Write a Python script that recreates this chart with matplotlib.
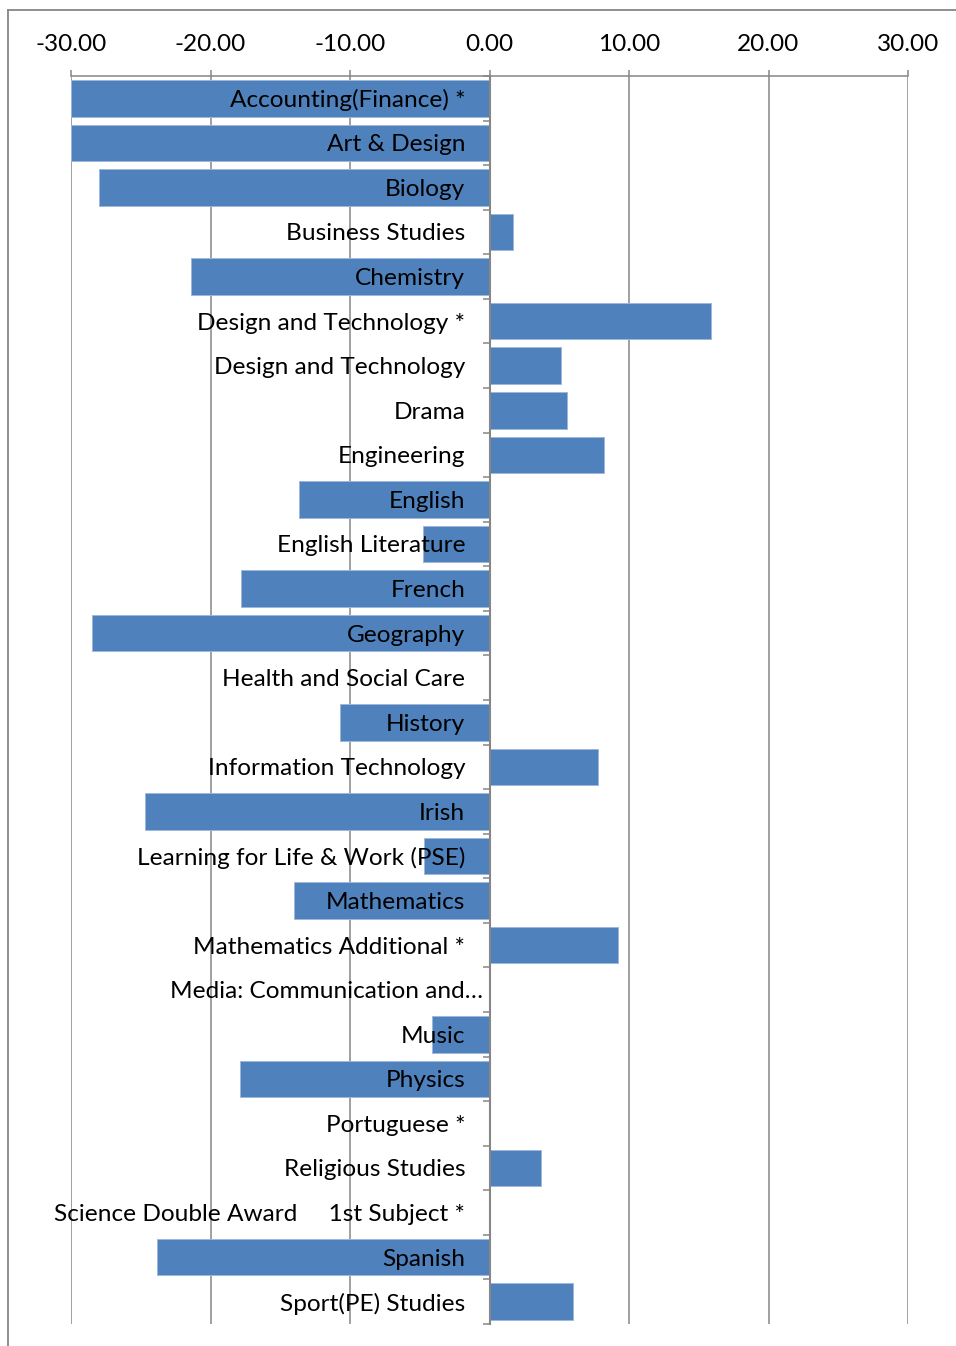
import matplotlib
matplotlib.use("Agg")
import matplotlib.pyplot as plt
from matplotlib.lines import Line2D
from matplotlib.transforms import ScaledTranslation
import numpy as np

subjects = [
    "Accounting(Finance) *", "Art & Design", "Biology", "Business Studies",
    "Chemistry", "Design and Technology *", "Design and Technology", "Drama",
    "Engineering", "English", "English Literature", "French", "Geography",
    "Health and Social Care", "History", "Information Technology", "Irish",
    "Learning for Life & Work (PSE)", "Mathematics", "Mathematics Additional *",
    "Media: Communication and\u2026", "Music", "Physics", "Portuguese *",
    "Religious Studies", "Science Double Award     1st Subject *", "Spanish",
    "Sport(PE) Studies",
]
values = [
    -30.0, -30.0, -27.96, 1.72, -21.43, 15.91, 5.09, 5.52, 8.24, -13.69,
    -4.80, -17.78, -28.46, 0.0, -10.75, 7.81, -24.66, -4.66, -13.98, 9.18,
    0.0, -4.09, -17.92, 0.0, 3.66, 0.0, -23.87, 5.95,
]
x_ticks = [-30, -20, -10, 0, 10, 20, 30]
x_ticklabels = ["-30.00", "-20.00", "-10.00", "0.00", "10.00", "20.00", "30.00"]

W, H = 956, 1346
fig = plt.figure(figsize=(W / 100, H / 100), dpi=100)
plt.rcParams['font.family'] = ['Lato', 'DejaVu Sans']
grey = '#868686'
fs = 17.6

left, right, top, bottom = 71, 908, 76, 1324
ax = fig.add_axes([left / W, 1 - bottom / H, (right - left) / W, (bottom - top) / H])

pos = np.arange(len(subjects))
ax.barh(pos, values, height=0.82, color='#4F81BD', edgecolor='#9db8dc', linewidth=0.7, zorder=2)

ax.set_xlim(-30, 30)
ax.set_ylim(len(subjects) - 0.5, -0.5)

ax.xaxis.set_ticks_position('top')
ax.set_xticks(x_ticks)
ax.set_xticklabels(x_ticklabels, fontsize=fs)
ax.tick_params(axis='x', direction='out', length=4.5, width=1.1, color=grey, pad=10.5)
ax.grid(axis='x', color=grey, linewidth=1.1, zorder=0)
ax.set_axisbelow(True)
ax.yaxis.set_zorder(4)

for s in ['right', 'bottom']:
    ax.spines[s].set_visible(False)
ax.spines['top'].set_color(grey)
ax.spines['top'].set_linewidth(1.1)
ax.spines['left'].set_position(('data', 0))
ax.spines['left'].set_color(grey)
ax.spines['left'].set_linewidth(1.5)
ax.spines['left'].set_zorder(3)

ax.set_yticks(pos)
ax.set_yticklabels(subjects, fontsize=fs)
ax.set_yticks(np.arange(len(subjects) + 1) - 0.5, minor=True)
ax.tick_params(axis='y', which='major', length=0, pad=17.5)
ax.tick_params(axis='y', which='minor', direction='out', length=5, width=1.1, color=grey)
for lbl in ax.get_yticklabels():
    if lbl.get_text().startswith("Media"):
        lbl.set_transform(lbl.get_transform() + ScaledTranslation(18 / 100, 0, fig.dpi_scale_trans))

# outer chart border (top and left visible)
fig.add_artist(Line2D([8 / W, 1], [1 - 10 / H, 1 - 10 / H], color=grey, linewidth=1.3, transform=fig.transFigure))
fig.add_artist(Line2D([8 / W, 8 / W], [1 - 10 / H, 0], color=grey, linewidth=1.3, transform=fig.transFigure))

fig.savefig("out.png", dpi=100, facecolor='white')
